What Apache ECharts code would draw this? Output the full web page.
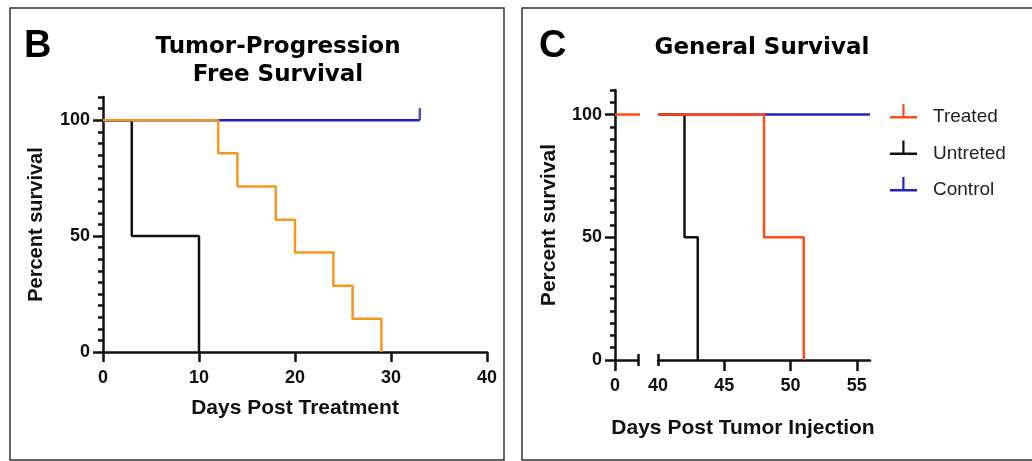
<!DOCTYPE html>
<html>
<head>
<meta charset="utf-8">
<script src="https://cdn.jsdelivr.net/npm/echarts@6/dist/echarts.min.js"></script>
<style>
  html, body { margin: 0; padding: 0; background: #fff; }
  #chart { width: 1032px; height: 461px; }
</style>
</head>
<body>
<div id="chart"></div>
<script>
// Panel B - tumor-progression free survival (Kaplan-Meier steps)
const bControlDays = [0, 33]
const bControlPct = [100, 100]
const bUntreatedDays = [0, 3, 10]
const bUntreatedPct = [100, 50, 0]
const bTreatedDays = [0, 12, 14, 18, 20, 24, 26, 29]
const bTreatedPct = [100, 85.7, 71.4, 57.1, 42.9, 28.6, 14.3, 0]
const bCensorDays = [33]
const bCensorPct = [100]

// Panel C - general survival (broken x axis: 0.. | 40..56)
const cTreatedEarlyDays = [0, 1.9]
const cTreatedEarlyPct = [100, 100]
const cControlDays = [40, 56]
const cControlPct = [100, 100]
const cUntreatedDays = [40, 42, 43]
const cUntreatedPct = [100, 50, 0]
const cTreatedDays = [40, 48, 51]
const cTreatedPct = [100, 50, 0]

// tick labels
const yLabelTicks = [0, 50, 100]
const cEarlyLabels = [0]
const cLateLabels = [40, 45, 50, 55]
const cLateTicks = [45, 50, 55]
const cLegendNames = ['Treated', 'Untreted', 'Control']

const zip = (xs, ys) => xs.map((x, i) => [x, ys[i]])
// customValues ticks drop an exact 0, nudge it a hair
const tickAt = vals => vals.map(v => (v === 0 ? 1e-6 : v))

const ORANGE = '#F5961E'
const RED = '#FF4A1A'
const BLUE = '#2222B8'
const BLACK = '#111111'
const AXIS = '#111111'
const FONT = 'Liberation Sans, Arial, sans-serif'

const tickLabel = { color: '#111', fontSize: 18, fontWeight: 'bold', fontFamily: FONT }
const axisLine = { show: true, lineStyle: { color: AXIS, width: 2.5 } }
const tickLine = { color: AXIS, width: 2.5 }

const legendIcon = 'path://M0,12 L27,12 L27,14.5 L0,14.5 Z M12.3,0 L14.5,0 L14.5,12 L12.3,12 Z M38,26 L38,26 L38,26 Z'

const stepLine = (name, days, pct, color, xi, yi, extra) => Object.assign({
  name,
  type: 'line',
  step: 'end',
  xAxisIndex: xi,
  yAxisIndex: yi,
  data: zip(days, pct),
  showSymbol: false,
  symbol: 'none',
  color,
  lineStyle: { color, width: 2.5 },
  itemStyle: { color },
  silent: true
}, extra || {})

const option = {
  animation: false,
  grid: [
    { left: 103, top: 97, right: 545, bottom: 109 },
    { left: 615, top: 90, width: 23, bottom: 101 },
    { left: 658, top: 90, width: 212, bottom: 101 }
  ],
  xAxis: [
    {
      gridIndex: 0, type: 'value', position: 'bottom', min: 0, max: 40, interval: 10,
      axisLine,
      axisTick: { show: true, length: 10, lineStyle: tickLine },
      axisLabel: Object.assign({ margin: 17 }, tickLabel),
      splitLine: { show: false },
      name: 'Days Post Treatment', nameLocation: 'middle', nameGap: 46,
      nameTextStyle: { color: '#111', fontSize: 21, fontWeight: 'bold', fontFamily: FONT }
    },
    {
      gridIndex: 1, type: 'value', position: 'bottom', min: 0, max: 1.75,
      axisLine,
      axisTick: { show: true, length: 11, customValues: tickAt(cEarlyLabels), lineStyle: tickLine },
      axisLabel: Object.assign({ margin: 17, customValues: cEarlyLabels }, tickLabel),
      splitLine: { show: false }
    },
    {
      // break cap at the end of the first segment
      gridIndex: 1, type: 'value', position: 'bottom', min: 0, max: 1.75, offset: -6,
      axisLine: { show: false },
      axisTick: { show: true, length: 12, customValues: [1.75], lineStyle: tickLine },
      axisLabel: { show: false },
      splitLine: { show: false }
    },
    {
      gridIndex: 2, type: 'value', position: 'bottom', min: 40, max: 56,
      axisLine,
      axisTick: { show: true, length: 11, customValues: cLateTicks, lineStyle: tickLine },
      axisLabel: Object.assign({ margin: 17, customValues: cLateLabels }, tickLabel),
      splitLine: { show: false }
    },
    {
      // break cap at the start of the second segment
      gridIndex: 2, type: 'value', position: 'bottom', min: 40, max: 56, offset: -6,
      axisLine: { show: false },
      axisTick: { show: true, length: 12, customValues: [40.0001], lineStyle: tickLine },
      axisLabel: { show: false },
      splitLine: { show: false }
    }
  ],
  yAxis: [
    {
      gridIndex: 0, type: 'value', position: 'left', min: 0, max: 110, interval: 5,
      axisLine,
      axisTick: { show: true, length: 5, lineStyle: tickLine },
      axisLabel: Object.assign({ margin: 13, customValues: yLabelTicks }, tickLabel),
      splitLine: { show: false },
      name: 'Percent survival', nameLocation: 'middle', nameGap: 57,
      nameTextStyle: { color: '#111', fontSize: 20, fontWeight: 'bold', fontFamily: FONT }
    },
    {
      gridIndex: 0, type: 'value', position: 'left', min: 0, max: 110,
      axisLine: { show: false },
      axisTick: { show: true, length: 10, customValues: tickAt(yLabelTicks), lineStyle: tickLine },
      axisLabel: { show: false },
      splitLine: { show: false }
    },
    {
      gridIndex: 1, type: 'value', position: 'left', min: 0, max: 110, interval: 5,
      axisLine,
      axisTick: { show: true, length: 5, lineStyle: tickLine },
      axisLabel: Object.assign({ margin: 13, customValues: yLabelTicks }, tickLabel),
      splitLine: { show: false },
      name: 'Percent survival', nameLocation: 'middle', nameGap: 55,
      nameTextStyle: { color: '#111', fontSize: 21, fontWeight: 'bold', fontFamily: FONT }
    },
    {
      gridIndex: 1, type: 'value', position: 'left', min: 0, max: 110,
      axisLine: { show: false },
      axisTick: { show: true, length: 10, customValues: tickAt(yLabelTicks), lineStyle: tickLine },
      axisLabel: { show: false },
      splitLine: { show: false }
    },
    { gridIndex: 2, type: 'value', min: 0, max: 110, show: false }
  ],
  legend: {
    data: cLegendNames.map(n => ({ name: n, icon: legendIcon })),
    orient: 'vertical',
    left: 890,
    top: 104,
    padding: 0,
    itemWidth: 38,
    itemHeight: 26,
    itemGap: 10.5,
    selectedMode: false,
    textStyle: { color: '#222', fontSize: 19, fontFamily: FONT }
  },
  series: [
    stepLine('B Control', bControlDays, bControlPct, BLUE, 0, 0),
    stepLine('B Untreated', bUntreatedDays, bUntreatedPct, BLACK, 0, 0),
    stepLine('B Treated', bTreatedDays, bTreatedPct, ORANGE, 0, 0),
    {
      name: 'B Censored', type: 'scatter', xAxisIndex: 0, yAxisIndex: 0,
      data: zip(bCensorDays, bCensorPct),
      symbol: 'rect', symbolSize: [2.5, 12], symbolOffset: [0, -6],
      itemStyle: { color: BLUE }, silent: true
    },
    stepLine('Treated', cTreatedEarlyDays, cTreatedEarlyPct, RED, 1, 2, { clip: false }),
    stepLine('Control', cControlDays, cControlPct, BLUE, 3, 4),
    stepLine('Untreted', cUntreatedDays, cUntreatedPct, BLACK, 3, 4),
    stepLine('Treated', cTreatedDays, cTreatedPct, RED, 3, 4)
  ],
  graphic: [
    { type: 'rect', shape: { x: 10, y: 8, width: 494, height: 452 }, style: { fill: 'none', stroke: '#333', lineWidth: 1.5 } },
    { type: 'rect', shape: { x: 522, y: 8, width: 530, height: 452 }, style: { fill: 'none', stroke: '#333', lineWidth: 1.5 } },
    { type: 'text', x: 24, y: 47, style: { text: 'B', fontSize: 38, fontWeight: 'bold', fontFamily: FONT, fill: '#000', textVerticalAlign: 'middle' } },
    { type: 'text', x: 539, y: 47, style: { text: 'C', fontSize: 38, fontWeight: 'bold', fontFamily: FONT, fill: '#000', textVerticalAlign: 'middle' } },
    { type: 'text', x: 278, y: 47, style: { text: 'Tumor-Progression', fontSize: 23, fontWeight: 'bold', fontFamily: 'DejaVu Sans', fill: '#000', textAlign: 'center', textVerticalAlign: 'middle' } },
    { type: 'text', x: 278, y: 75, style: { text: 'Free Survival', fontSize: 23, fontWeight: 'bold', fontFamily: 'DejaVu Sans', fill: '#000', textAlign: 'center', textVerticalAlign: 'middle' } },
    { type: 'text', x: 762, y: 48, style: { text: 'General Survival', fontSize: 23, fontWeight: 'bold', fontFamily: 'DejaVu Sans', fill: '#000', textAlign: 'center', textVerticalAlign: 'middle' } },
    { type: 'text', x: 743, y: 428, style: { text: 'Days Post Tumor Injection', fontSize: 21, fontWeight: 'bold', fontFamily: FONT, fill: '#111', textAlign: 'center', textVerticalAlign: 'middle' } }
  ]
}

const chart = echarts.init(document.getElementById('chart'))
chart.setOption(option)
</script>
</body>
</html>
